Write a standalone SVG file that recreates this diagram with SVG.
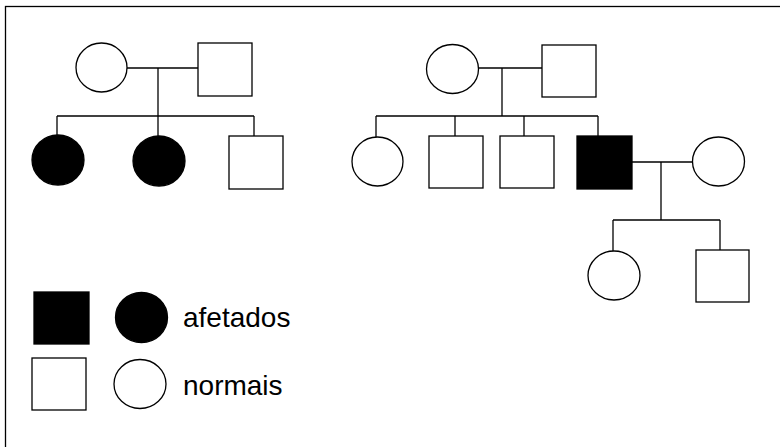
<svg xmlns="http://www.w3.org/2000/svg" width="780" height="447" viewBox="0 0 780 447">
<style>
.n{fill:#fff;stroke:#000;stroke-width:1.3}
.a{fill:#000;stroke:#000;stroke-width:1.3}
.c line{stroke:#000;stroke-width:1.3}
.t{font-family:"Liberation Sans",Arial,sans-serif;font-size:28px;fill:#000}
</style>
<rect x="0" y="0" width="780" height="447" fill="#fff"/>
<rect x="5.5" y="6.5" width="800" height="500" fill="none" stroke="#000" stroke-width="1.3"/>
<g id="connectors" class="c">
<line x1="127" y1="68" x2="198" y2="68"/>
<line x1="158" y1="68" x2="158" y2="116"/>
<line x1="57" y1="116" x2="254" y2="116"/>
<line x1="57" y1="116" x2="57" y2="135"/>
<line x1="158" y1="116" x2="158" y2="136"/>
<line x1="254" y1="116" x2="254" y2="136"/>
<line x1="478" y1="68" x2="542" y2="68"/>
<line x1="502" y1="68" x2="502" y2="116"/>
<line x1="376" y1="116" x2="598" y2="116"/>
<line x1="376" y1="116" x2="376" y2="137"/>
<line x1="455" y1="116" x2="455" y2="136"/>
<line x1="524" y1="116" x2="524" y2="136"/>
<line x1="598" y1="116" x2="598" y2="136"/>
<line x1="632" y1="162" x2="693" y2="162"/>
<line x1="661" y1="162" x2="661" y2="220"/>
<line x1="613" y1="220" x2="720" y2="220"/>
<line x1="613" y1="220" x2="613" y2="251"/>
<line x1="720" y1="220" x2="720" y2="250"/>
</g>
<g id="f1-mother"><ellipse class="n" cx="101.5" cy="67.5" rx="25.5" ry="24.5"/></g>
<g id="f1-father"><rect class="n" x="198" y="43" width="54" height="53"/></g>
<g id="f1-child1"><ellipse class="a" cx="58" cy="160" rx="26" ry="25"/></g>
<g id="f1-child2"><ellipse class="a" cx="159" cy="161" rx="26" ry="25"/></g>
<g id="f1-child3"><rect class="n" x="229" y="136" width="54" height="53"/></g>
<g id="f2-mother"><ellipse class="n" cx="452.5" cy="69" rx="26" ry="24.5"/></g>
<g id="f2-father"><rect class="n" x="542" y="45" width="54" height="52"/></g>
<g id="f2-child1"><ellipse class="n" cx="377.5" cy="161.5" rx="25.5" ry="24.5"/></g>
<g id="f2-child2"><rect class="n" x="429" y="136" width="54" height="52"/></g>
<g id="f2-child3"><rect class="n" x="500" y="136" width="54" height="52"/></g>
<g id="f2-child4"><rect class="a" x="577" y="136" width="55" height="53"/></g>
<g id="f2-spouse"><ellipse class="n" cx="718.5" cy="161.5" rx="26" ry="24.5"/></g>
<g id="f3-child1"><ellipse class="n" cx="614" cy="275.5" rx="26" ry="24.5"/></g>
<g id="f3-child2"><rect class="n" x="696" y="250" width="53" height="52"/></g>
<g id="legend-affected">
<rect class="a" x="34" y="292" width="55" height="52"/>
<ellipse class="a" cx="141.5" cy="317.5" rx="26" ry="25"/>
<text class="t" x="183" y="326.5">afetados</text>
</g>
<g id="legend-normal">
<rect class="n" x="32" y="358" width="54" height="52"/>
<ellipse class="n" cx="140" cy="384" rx="26" ry="24.5"/>
<text class="t" x="183" y="395">normais</text>
</g>
</svg>
